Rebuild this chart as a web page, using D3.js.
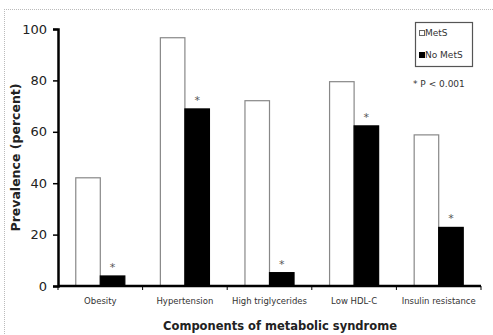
<!DOCTYPE html>
<meta charset="utf-8">
<title>Components of metabolic syndrome</title>
<style type="text/css">
	body { margin: 0; background: #fff; }
	text { font-family: "DejaVu Sans", Verdana, sans-serif; }
</style>
<body>
<div id="chart"></div>
</body>
<script src="https://d3js.org/d3.v7.min.js"></script>
<script>

// data
var categories = ["Obesity", "Hypertension", "High triglycerides", "Low HDL-C", "Insulin resistance"];
var seriesNames = ["MetS", "No MetS"];
var metsValues = [42.1, 96.6, 72.1, 79.5, 58.8];
var noMetsValues = [3.9, 68.9, 5.2, 62.3, 22.8];
var yTicks = [0, 20, 40, 60, 80, 100];

var margin = {top: 29, right: 12, bottom: 49, left: 58},
	width = 493 - margin.left - margin.right,
	height = 335 - margin.top - margin.bottom;

var svg = d3.select("#chart").append("svg")
	.attr("width", 493)
	.attr("height", 335);

// dotted frame (top & left only visible)
svg.append("line").attr("x1", 4).attr("x2", 493).attr("y1", 9.5).attr("y2", 9.5)
	.attr("stroke", "#bbb").attr("stroke-dasharray", "1,1");
svg.append("line").attr("x1", 4.5).attr("x2", 4.5).attr("y1", 9).attr("y2", 335)
	.attr("stroke", "#bbb").attr("stroke-dasharray", "1,1");

var g = svg.append("g")
	.attr("transform", "translate(" + margin.left + "," + margin.top + ")");

var x = d3.scaleBand()
	.domain(categories)
	.range([0, width])
	.paddingInner(0.42)
	.paddingOuter(0.21);

var xSub = d3.scaleBand()
	.domain(seriesNames)
	.range([0, x.bandwidth()]);

var y = d3.scaleLinear()
	.domain([0, 100])
	.range([height, 0]);

var rows = categories.map(function (c, i) {
	return {cat: c, vals: [{s: "MetS", v: metsValues[i]}, {s: "No MetS", v: noMetsValues[i]}]};
});

var groups = g.selectAll(".grp")
	.data(rows)
	.enter().append("g")
	.attr("transform", function (d) { return "translate(" + x(d.cat) + ",0)"; });

groups.selectAll("rect")
	.data(function (d) { return d.vals; })
	.enter().append("rect")
	.attr("x", function (d) { return xSub(d.s); })
	.attr("y", function (d) { return y(d.v); })
	.attr("width", xSub.bandwidth())
	.attr("height", function (d) { return height - y(d.v); })
	.attr("fill", function (d) { return d.s === "MetS" ? "#fff" : "#000"; })
	.attr("stroke", function (d) { return d.s === "MetS" ? "#888" : "#000"; })
	.attr("stroke-width", 1.2);

// significance asterisks above No MetS bars
groups.append("text")
	.attr("x", xSub("No MetS") + xSub.bandwidth() / 2)
	.attr("y", function (d) { return y(d.vals[1].v) - 5; })
	.attr("text-anchor", "middle")
	.style("font-size", "11px")
	.style("fill", "#555")
	.text("*");

// y axis
var yAxis = d3.axisLeft(y).tickValues(yTicks).tickSize(5).tickPadding(6);
var ya = g.append("g").call(yAxis);
ya.select(".domain").attr("stroke-width", 2.5);
ya.selectAll(".tick line").attr("stroke-width", 1.5);
ya.selectAll(".tick text").style("font-size", "13px").style("fill", "#222");

// x axis with ticks at category boundaries
var xa = g.append("g").attr("transform", "translate(0," + height + ")");
xa.append("line").attr("x1", 0).attr("x2", width).attr("y1", 0).attr("y2", 0)
	.attr("stroke", "#000").attr("stroke-width", 2.5);
xa.selectAll(".btick")
	.data(d3.range(categories.length + 1))
	.enter().append("line")
	.attr("x1", function (i) { return i * width / categories.length; })
	.attr("x2", function (i) { return i * width / categories.length; })
	.attr("y1", 0).attr("y2", 4)
	.attr("stroke", "#000");
xa.selectAll(".lbl")
	.data(categories)
	.enter().append("text")
	.attr("x", function (d) { return x(d) + x.bandwidth() / 2; })
	.attr("y", 18)
	.attr("text-anchor", "middle")
	.style("font-size", "8.5px")
	.style("fill", "#333")
	.text(function (d) { return d; });

// axis titles
svg.append("text")
	.attr("transform", "translate(20," + (margin.top + height / 2) + ") rotate(-90)")
	.attr("text-anchor", "middle")
	.style("font-size", "12.5px")
	.style("font-weight", "bold")
	.style("fill", "#222")
	.text("Prevalence (percent)");

svg.append("text")
	.attr("x", 280)
	.attr("y", 330)
	.attr("text-anchor", "middle")
	.style("font-size", "11.5px")
	.style("font-weight", "bold")
	.style("fill", "#222")
	.text("Components of metabolic syndrome");

// legend
var leg = svg.append("g");
leg.append("rect").attr("x", 415.5).attr("y", 22.5).attr("width", 57).attr("height", 44)
	.attr("fill", "#fff").attr("stroke", "#555").attr("stroke-width", 1.2);
seriesNames.forEach(function (s, i) {
	var ly = 35 + i * 22;
	leg.append("rect").attr("x", 419.5).attr("y", ly - 4.5).attr("width", 5).attr("height", 5)
		.attr("fill", s === "MetS" ? "#fff" : "#000").attr("stroke", s === "MetS" ? "#666" : "#000");
	leg.append("text").attr("x", 425).attr("y", ly + 1)
		.style("font-size", "9px").style("fill", "#333").text(s);
});
leg.append("text").attr("x", 413).attr("y", 87)
	.style("font-size", "9px").style("fill", "#333").text("* P < 0.001");

</script>
